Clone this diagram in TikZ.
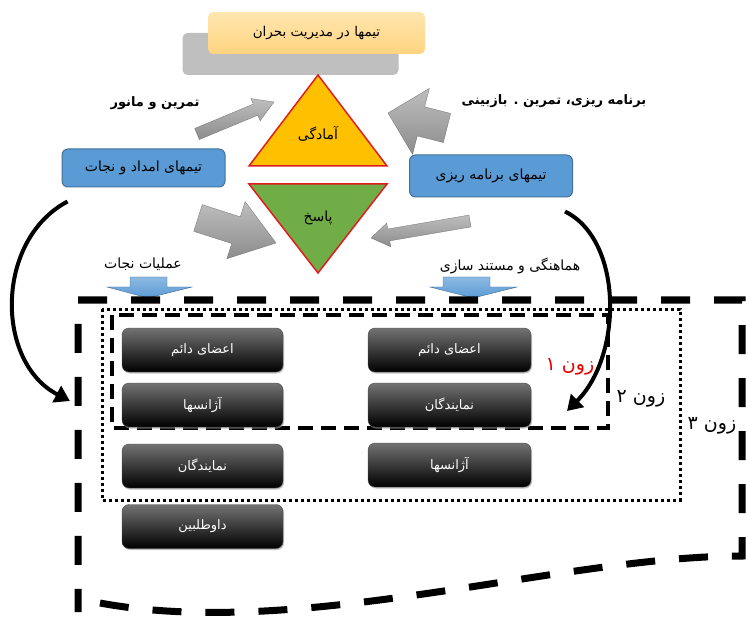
\documentclass[tikz,border=0pt]{standalone}
\usepackage{fontspec}
\newfontfamily\fa[Script=Arabic]{DejaVu Sans}
\TeXXeTstate=1
\usetikzlibrary{calc,arrows.meta,shadows}
\newcommand\fatext[1]{{\fa\beginR #1\endR}}
\definecolor{boxblue}{RGB}{91,155,213}
\definecolor{boxblueline}{RGB}{65,113,156}
\definecolor{titleorange}{RGB}{255,212,128}
\definecolor{titlelight}{RGB}{255,230,175}
\definecolor{backgray}{RGB}{191,191,191}
\definecolor{triyellow}{RGB}{255,192,0}
\definecolor{trigreen}{RGB}{112,173,71}
\definecolor{trired}{RGB}{222,30,30}
\definecolor{arrowgray}{RGB}{140,140,140}
\definecolor{arrowgraylight}{RGB}{190,190,190}
\definecolor{zonered}{RGB}{230,0,0}
\newcommand\blockarrow[6][]{%
  \coordinate (bn) at ($(#3)!#6!(#2)$);
  \path[#1] ($(#2)!#4!90:(#3)$) -- ($(bn)!#4!90:(#3)$) -- ($(bn)!#5!90:(#3)$) -- (#3)
    -- ($(bn)!#5!-90:(#3)$) -- ($(bn)!#4!-90:(#3)$) -- ($(#2)!#4!-90:(#3)$) -- cycle;
}
\begin{document}
\begin{tikzpicture}[x=1pt,y=-1pt,
  titlebox/.style={rounded corners=5pt, minimum width=217pt, minimum height=42pt,
    top color=titlelight, bottom color=titleorange, inner sep=0pt, font=\fontsize{13.5}{15}\selectfont},
  backbox/.style={rounded corners=5pt, minimum width=216pt, minimum height=42pt, fill=backgray, inner sep=0pt},
  bluebox/.style={rounded corners=6pt, fill=boxblue, draw=boxblueline, line width=1pt,
    minimum width=163pt, minimum height=38pt, inner sep=0pt, font=\fontsize{14}{16}\selectfont},
  blackbox/.style={rounded corners=7pt, minimum width=161pt, minimum height=44pt, inner sep=0pt,
    shading=axis, top color=black!55, middle color=black, bottom color=black,
    draw=black!70, line width=0.4pt,
    text=white, font=\fontsize{13}{15}\selectfont,
    drop shadow={shadow xshift=1pt, shadow yshift=-1.5pt, fill=black!40, opacity=0.6}},
  lbl/.style={inner sep=0pt, font=\fontsize{14}{16}\selectfont},
  boldlbl/.style={inner sep=0pt, font=\bfseries\fontsize{13}{15}\selectfont},
  trilbl/.style={inner sep=0pt, font=\fontsize{14}{16}\selectfont},
  zonelbl/.style={inner sep=0pt, font=\fontsize{19}{21}\selectfont},
  garrow/.style={top color=arrowgraylight, bottom color=arrowgray, draw=arrowgray!80!black, line width=0.3pt},
  barrow/.style={top color=boxblue!70!white, bottom color=boxblue, draw=boxblueline, line width=0.4pt},
  bentarrow/.style={line width=4pt, -{Triangle[length=15pt,width=18pt]}},
  zonethree/.style={line width=7pt, dash pattern=on 29pt off 24pt},
  zonetwo/.style={line width=3pt, dash pattern=on 3pt off 3pt},
  zoneone/.style={line width=3.5pt, dash pattern=on 15pt off 8pt},
]
\useasboundingbox (0,0) rectangle (746,617);

% header
\node[backbox] (back) at (290.5,54) {};
\node[titlebox] (title) at (316.5,33) {\fatext{تیمها در مدیریت بحران}};

% triangles
\coordinate (ya) at (318,75);
\coordinate (yl) at (249,166);
\coordinate (yr) at (387,166);
\filldraw[fill=triyellow, draw=trired, line width=1.5pt, line join=miter] (ya) -- (yl) -- (yr) -- cycle;
\node[trilbl] (ready) at (318,134) {\fatext{آمادگی}};
\coordinate (gl) at (249,184);
\coordinate (gr) at (387,184);
\coordinate (gb) at (318,273);
\filldraw[fill=trigreen, draw=trired, line width=1.5pt, line join=miter] (gl) -- (gr) -- (gb) -- cycle;
\node[trilbl] (resp) at (318,218) {\fatext{پاسخ}};

% blue boxes
\node[bluebox] (rescue) at (143.5,168) {\fatext{تیمهای امداد و نجات}};
\node[bluebox, minimum height=42pt] (plan) at (491,176) {\fatext{تیمهای برنامه ریزی}};

% top labels
\node[boldlbl] (drill) at (155,103) {\fatext{تمرین و مانور}};
\node[boldlbl] (review) at (554,101) {\fatext{برنامه ریزی، تمرین . بازبینی}};

% gray block arrows
\coordinate (a1t) at (197,134); \coordinate (a1h) at (274,102);
\blockarrow[garrow]{a1t}{a1h}{6pt}{12pt}{20pt}
\coordinate (a2t) at (447,128); \coordinate (a2h) at (388,113);
\blockarrow[garrow]{a2t}{a2h}{15pt}{34pt}{34pt}
\coordinate (a3t) at (198,218); \coordinate (a3h) at (276,243);
\blockarrow[garrow]{a3t}{a3h}{14pt}{30pt}{42pt}
\coordinate (a4t) at (470,221); \coordinate (a4h) at (371,238);
\blockarrow[garrow]{a4t}{a4h}{6pt}{12pt}{18pt}

% lower labels and blue down arrows
\node[lbl] (ops) at (143,264) {\fatext{عملیات نجات}};
\node[lbl] (coord) at (510,266) {\fatext{هماهنگی و مستند سازی}};
\path[barrow] (130,277) -- (167,277) -- (167,287) -- (192,287) -- (148,298) -- (107,287) -- (130,287) -- cycle;
\path[barrow] (443,277) -- (490,277) -- (490,287) -- (517,287) -- (473,298) -- (430,287) -- (443,287) -- cycle;

% zones
\draw[zonethree] (100,603) .. controls (300,640) and (560,556) .. (742,556) -- (742,300) -- (78,300) -- (78,612);
\draw[zonetwo] (102,309) rectangle (680,500);
\draw[zoneone] (112,315) rectangle (608,428);

% black boxes
\node[blackbox] (l1) at (202.5,350) {\fatext{اعضای دائم}};
\node[blackbox] (l2) at (202.5,405) {\fatext{آژانسها}};
\node[blackbox] (l3) at (202.5,466) {\fatext{نمایندگان}};
\node[blackbox] (l4) at (202.5,526.5) {\fatext{داوطلبین}};
\node[blackbox, minimum width=163pt] (r1) at (449.5,350) {\fatext{اعضای دائم}};
\node[blackbox, minimum width=163pt] (r2) at (449.5,405) {\fatext{نمایندگان}};
\node[blackbox, minimum width=163pt] (r3) at (449.5,465) {\fatext{آژانسها}};

% zone labels
\node[zonelbl, text=zonered] (z1) at (570,367) {\fatext{زون ۱}};
\node[zonelbl] (z2) at (641,399) {\fatext{زون ۲}};
\node[zonelbl] (z3) at (712,426) {\fatext{زون ۳}};

% bent arrows
\coordinate (lend) at (70,401);
\coordinate (rend) at (567,411);
\draw[bentarrow] ($(rescue.south west)+(6,14)$) .. controls (-5,240) and (-5,362) .. (lend);
\draw[bentarrow] ($(plan.south east)+(-8,14)$) .. controls (623,240) and (623,355) .. (rend);
\end{tikzpicture}
\end{document}
